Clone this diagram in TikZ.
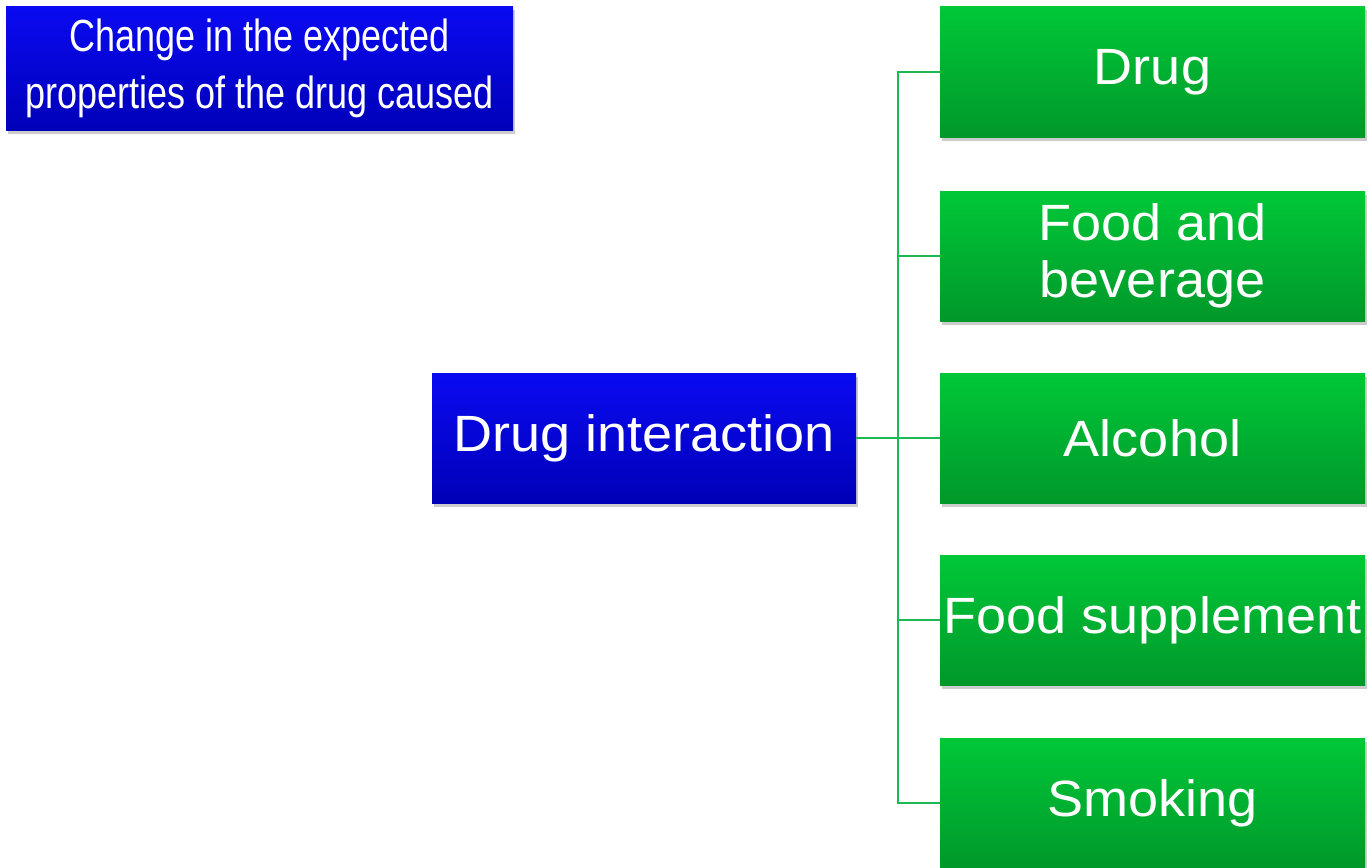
\documentclass[tikz,border=0pt]{standalone}
\usepackage{fontspec}
\setmainfont{Liberation Sans}[FakeStretch=1.06]
\newfontfamily\narrowfont{Liberation Sans}[FakeStretch=0.8]
\usetikzlibrary{shadows}
\definecolor{bluetop}{HTML}{0A0AF2}
\definecolor{bluebot}{HTML}{0000B8}
\definecolor{greentop}{HTML}{00C838}
\definecolor{greenbot}{HTML}{00982A}
\definecolor{linegreen}{HTML}{1DB954}
\begin{document}
\begin{tikzpicture}[x=1pt,y=-1pt,
  base/.style={rectangle, inner sep=0pt, text=white, align=center,
    font=\fontsize{51}{57}\selectfont,
    drop shadow={opacity=0.4, shadow xshift=1.5pt, shadow yshift=-3.5pt}},
  bluebox/.style={base, top color=bluetop, bottom color=bluebot},
  greenbox/.style={base, top color=greentop, bottom color=greenbot,
    minimum width=425pt, minimum height=130pt},
  conn/.style={draw=linegreen, line width=1.5pt}]
\useasboundingbox (0,0) rectangle (1370,867);
\node[bluebox, minimum width=507pt, minimum height=123pt,
  font=\narrowfont\fontsize{45}{57}\selectfont] (top) at (259.5,68.5)
  {Change in the expected\\properties of the drug caused};
\node[bluebox, minimum width=424pt, minimum height=130pt] (di) at (644,438) {Drug interaction};
\node[greenbox] (g1) at (1152.5,72) {Drug};
\node[greenbox] (g2) at (1152.5,256) {Food and\\beverage};
\node[greenbox] (g3) at (1152.5,438) {Alcohol};
\node[greenbox] (g4) at (1152.5,620) {Food supplement};
\node[greenbox] (g5) at (1152.5,803) {Smoking};
\coordinate (bus) at (898,0);
\draw[conn] (g1.west) -- (g1.west -| bus) -- (g5.west -| bus) -- (g5.west);
\draw[conn] (g2.west) -- (g2.west -| bus);
\draw[conn] (g4.west) -- (g4.west -| bus);
\draw[conn] (di.east) -- (g3.west);
\end{tikzpicture}
\end{document}
